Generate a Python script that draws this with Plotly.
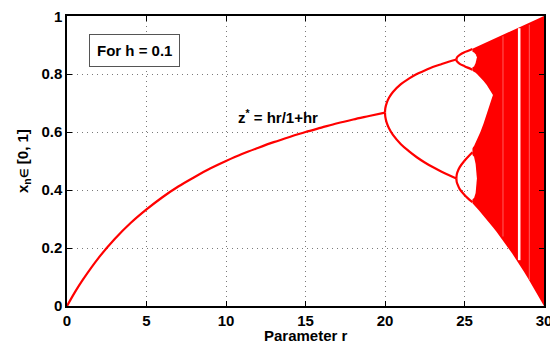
import plotly.graph_objects as go

# ---------------- data ----------------
# stable fixed-point branch z* (r from 0 to 20)
main_r = [0, 0.5, 1, 2, 3, 4, 5, 6, 7, 8, 9, 10, 11, 12, 13, 14, 15, 16, 17, 18, 19, 20]
main_x = [0, 0.048, 0.091, 0.167, 0.231, 0.286, 0.333, 0.375, 0.412, 0.444, 0.474, 0.500,
          0.524, 0.545, 0.565, 0.583, 0.600, 0.615, 0.630, 0.643, 0.655, 0.667]

# period-2 branches
p2_r = [20, 20.02, 20.1, 20.25, 20.5, 21, 21.5, 22, 22.5, 23, 23.5, 24, 24.49]
p2_hi = [0.667, 0.682, 0.699, 0.718, 0.738, 0.765, 0.784, 0.800, 0.812, 0.824, 0.833, 0.842, 0.850]
p2_lo = [0.667, 0.652, 0.633, 0.613, 0.590, 0.558, 0.534, 0.513, 0.495, 0.479, 0.465, 0.452, 0.440]

# period-4 branches
p4_r = [24.49, 24.51, 24.55, 24.7, 25.0, 25.2, 25.5]
p4_a = [0.850, 0.855, 0.859, 0.866, 0.875, 0.879, 0.886]
p4_b = [0.850, 0.845, 0.842, 0.835, 0.827, 0.822, 0.815]
p4_c = [0.440, 0.452, 0.461, 0.479, 0.501, 0.513, 0.530]
p4_d = [0.440, 0.428, 0.421, 0.403, 0.383, 0.372, 0.358]

# chaotic band envelope
chaos_r = [25.5, 25.6, 25.7, 25.8, 25.9, 26.0, 26.2, 26.4, 26.6, 26.8, 27.0, 27.25, 27.5,
           27.75, 28.0, 28.25, 28.5, 28.75, 29.0, 29.25, 29.5, 29.75, 30.0]
chaos_top = [0.8875, 0.890, 0.8925, 0.895, 0.8975, 0.900, 0.905, 0.910, 0.915, 0.920, 0.925,
             0.931, 0.9375, 0.944, 0.950, 0.956, 0.9625, 0.969, 0.975, 0.981, 0.9875, 0.994, 1.0]
chaos_bot = [0.354, 0.349, 0.343, 0.336, 0.330, 0.324, 0.311, 0.298, 0.285, 0.271, 0.257,
             0.238, 0.220, 0.200, 0.181, 0.160, 0.139, 0.117, 0.095, 0.072, 0.049, 0.025, 0.0]

# white gap between the two chaotic bands
gap_r = [25.45, 25.6, 25.7, 25.8, 25.9, 26.0, 26.2, 26.4, 26.6, 26.7, 26.79]
gap_top = [0.812, 0.808, 0.804, 0.799, 0.794, 0.789, 0.776, 0.762, 0.745, 0.736, 0.728]
gap_bot = [0.541, 0.552, 0.563, 0.574, 0.587, 0.600, 0.629, 0.661, 0.695, 0.713, 0.728]

# white "eyes" of the period-4 branches inside the onset of chaos
eye_r = [25.45, 25.6, 25.7, 25.78]
eye_up_top = [0.878, 0.874, 0.868, 0.858]
eye_up_bot = [0.822, 0.826, 0.838, 0.858]
eye_lo_top = [0.522, 0.515, 0.490, 0.440]
eye_lo_bot = [0.366, 0.372, 0.390, 0.440]

# periodic window (white stripe)
win_r = [28.36, 28.52]
win_lo = 0.158
win_hi = 0.958

# faint lighter stripes in the chaotic region
faint_r = [27.42, 29.08]
faint_lo = [0.24, 0.09]
faint_hi = [0.93, 0.97]

x_ticks = [0, 5, 10, 15, 20, 25, 30]
y_ticks = [0, 0.2, 0.4, 0.6, 0.8, 1]
y_ticktext = ["0", "0.2", "0.4", "0.6", "0.8", ""]
y_top_label = "1"

RED = "#ff0000"
FONT = "Liberation Sans, Arial, sans-serif"

fig = go.Figure()


def add_line(x, y):
    fig.add_trace(go.Scatter(x=x, y=y, mode="lines",
                             line=dict(color=RED, width=2.2, shape="spline"),
                             hoverinfo="skip", showlegend=False))


def add_poly(x, y, color, opacity=1.0):
    fig.add_trace(go.Scatter(x=x, y=y, mode="lines", fill="toself", fillcolor=color,
                             line=dict(width=0, color=color), opacity=opacity,
                             hoverinfo="skip", showlegend=False))


# chaotic region
add_poly(chaos_r + chaos_r[::-1], chaos_top + chaos_bot[::-1], RED)
add_poly(gap_r + gap_r[::-1], gap_top + gap_bot[::-1], "white")
add_poly(eye_r + eye_r[::-1], eye_up_top + eye_up_bot[::-1], "white")
add_poly(eye_r + eye_r[::-1], eye_lo_top + eye_lo_bot[::-1], "white")
add_poly([win_r[0], win_r[1], win_r[1], win_r[0]], [win_lo, win_lo, win_hi, win_hi], "white")
for fr, lo, hi in zip(faint_r, faint_lo, faint_hi):
    fig.add_trace(go.Scatter(x=[fr, fr], y=[lo, hi], mode="lines",
                             line=dict(color="white", width=1.2), opacity=0.3,
                             hoverinfo="skip", showlegend=False))

# branches
add_line(main_r, main_x)
add_line(p2_r, p2_hi)
add_line(p2_r, p2_lo)
for br in (p4_a, p4_b, p4_c, p4_d):
    add_line(p4_r, br)

axis_common = dict(showline=True, linecolor="black", linewidth=1.5, mirror="ticks",
                   ticks="inside", ticklen=5, tickcolor="black",
                   showgrid=True, gridcolor="#7a7a7a", griddash="1px,4px", gridwidth=1,
                   zeroline=False,
                   tickfont=dict(family=FONT, size=15, color="black", weight="bold"))

fig.update_xaxes(range=[0, 30], tickvals=x_ticks, **axis_common)
fig.update_yaxes(range=[0, 1], tickvals=y_ticks, ticktext=y_ticktext, **axis_common)

# the page body has an 8px default margin, so the figure is 8px smaller on
# each axis and the left/top margins are reduced by 8px to compensate
fig.update_layout(
    width=550, height=337,
    margin=dict(l=59, r=11, t=6, b=39),
    plot_bgcolor="white", paper_bgcolor="white",
    font=dict(family=FONT, size=15, color="black", weight="bold"),
    showlegend=False,
)

# top y tick label (drawn as annotation so it is not hidden at the figure edge)
fig.add_annotation(x=0, y=1, xref="paper", yref="y", text=y_top_label,
                   showarrow=False, xanchor="right", yanchor="middle", xshift=-3,
                   font=dict(family=FONT, size=15, weight="bold"))

fig.add_annotation(x=0.5, y=-0.1, xref="paper", yref="paper",
                   text="Parameter r", showarrow=False, yanchor="middle",
                   font=dict(family=FONT, size=15, weight="bold"))
fig.add_annotation(x=-0.092, y=0.5, xref="paper", yref="paper",
                   text="x<sub>n</sub><span style='font-size:11px'>∈</span> [0, 1]",
                   textangle=-90, showarrow=False, xanchor="center", yanchor="middle",
                   font=dict(family=FONT, size=15, weight="bold"))
fig.add_annotation(x=4.26, y=0.88, xref="x", yref="y", text="For h = 0.1",
                   showarrow=False, bordercolor="#555555", borderwidth=1, borderpad=7,
                   bgcolor="white", font=dict(family=FONT, size=15, weight="bold"))
fig.add_annotation(x=13.25, y=0.655, xref="x", yref="y",
                   text="z<sup>*</sup> = hr/1+hr", showarrow=False,
                   font=dict(family=FONT, size=15, weight="bold"))

fig.write_html("out.html")
